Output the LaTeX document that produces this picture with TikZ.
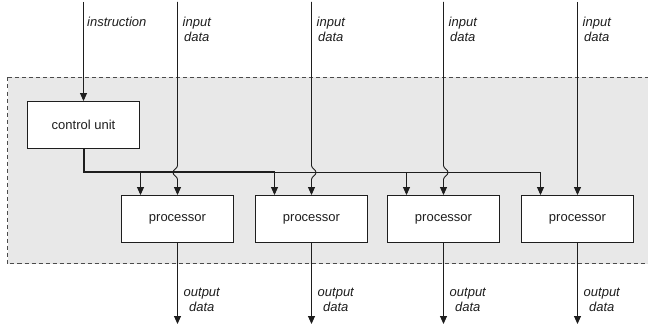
\documentclass[tikz,border=0pt]{standalone}
\usepackage{fontspec}
\setmainfont{Liberation Sans}
\usetikzlibrary{arrows.meta}
\definecolor{panel}{RGB}{232,232,232}
\definecolor{ink}{RGB}{30,30,30}
\begin{document}
\begin{tikzpicture}[x=1pt,y=-1pt,
  box/.style={draw=ink,fill=white,line width=0.9pt,minimum width=112pt,
    minimum height=47pt,inner sep=0pt,text=ink,font=\fontsize{13}{15}\selectfont},
  wire/.style={line width=0.9pt,draw=ink},
  busline/.style={wire,line width=2pt,line join=miter},
  flow/.style={wire,-{Triangle[length=8pt,width=7pt]}},
  lbl/.style={font=\fontsize{13}{15}\selectfont\itshape,align=center,
    inner sep=0pt,anchor=north west,text=ink}]
\useasboundingbox (0,0) rectangle (648,329);

% shaded processing array
\path[fill=panel,draw=ink!80,line width=0.8pt,dash pattern=on 4pt off 3pt]
  (7.5,77.5) rectangle (660,263.5);

% control unit and processors
\node[box] (cu) at (83.5,125) {control unit};
\foreach \i/\x in {1/177.5,2/311.5,3/443.5,4/577.5}
  \node[box] (p\i) at (\x,219) {processor};

% instruction input
\coordinate (ins) at (83.5,2);
\draw[flow] (ins) -- (cu.north);
\node[lbl] (lins) at (87,16.5) {instruction};

% control bus to every processor
\foreach \i/\w in {1/2pt,2/2pt,3/0.9pt,4/0.9pt}{
  \coordinate (b\i) at ([xshift=-37pt,yshift=23pt]p\i.north);
  \draw[busline,line width=\w] (cu.south) |- (b\i);
  \draw[flow] (b\i) -- ([xshift=-37pt]p\i.north);
}

% data inputs hopping over the bus
\foreach \i/\x/\h in {1/177.5/-4.5,2/311.5/4.5,3/443.5/4.5}{
  \coordinate (in\i) at (\x,2);
  \draw[flow] (in\i) -- (\x,165.5) .. controls (\x,168.5) and (\x+\h,169.5) ..
    (\x+\h,172.5) .. controls (\x+\h,175.5) and (\x,176.5) .. (\x,179.5) -- (p\i.north);
}
% last data input lies beyond the end of the bus
\coordinate (in4) at (577.5,2);
\draw[flow] (in4) -- (p4.north);

% labels and data outputs
\foreach \i/\x in {1/177.5,2/311.5,3/443.5,4/577.5}{
  \node[lbl] (li\i) at (\x+5,16.5) {input\\data};
  \coordinate (out\i) at (\x,324);
  \draw[flow] (p\i.south) -- (out\i);
  \node[lbl] (lo\i) at (\x+6,287.5) {output\\data};
}
\end{tikzpicture}
\end{document}
